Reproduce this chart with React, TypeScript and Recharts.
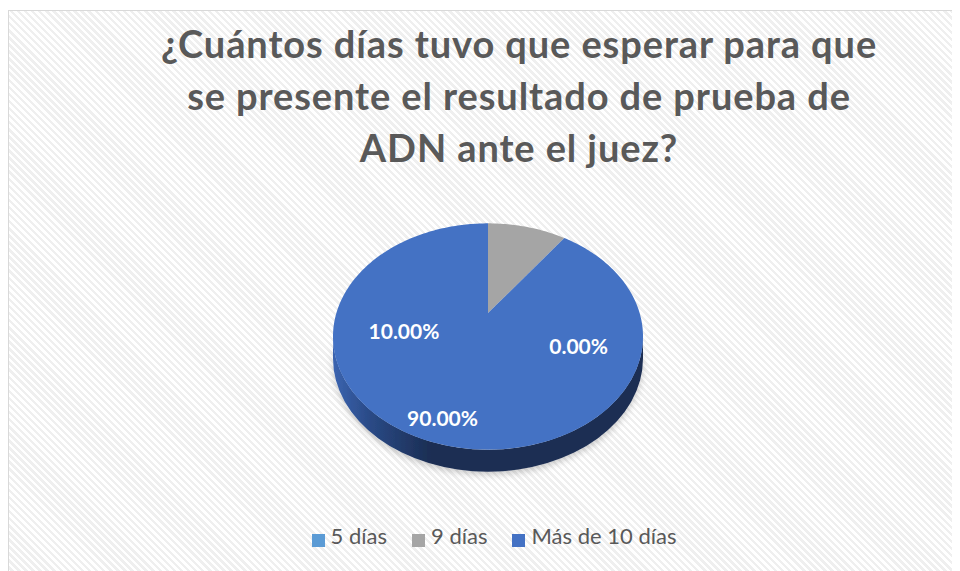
import React from "react";
import { PieChart, Pie, Cell, Legend } from "recharts";

const categories = ["5 días", "9 días", "Más de 10 días"];
const shares = [0, 10, 90];
const colors = ["#5B9BD5", "#A5A5A5", "#4472C4"];
const wallShades = [
  ["#5690C8", "#3F73A4", "#2B557C"],
  ["#9A9A9A", "#7A7A7A", "#5E5E5E"],
  ["#3B64B0", "#2A4A86", "#1B2D52"],
];
const titleLines = [
  "¿Cuántos días tuvo que esperar para que",
  "se presente el resultado de prueba de",
  "ADN ante el juez?",
];

// where excel left the percent labels (clockwise from 12 o'clock, fraction of radius)
const labelSpots = [
  { angle: 97.7, r: 0.59 },
  { angle: 276, r: 0.545 },
  { angle: 202.2, r: 0.777 },
];

const data = categories.map((name, i) => ({ name, value: shares[i] }));

const W = 952;
const H = 562;
const CX = 479;
const CY = 325.5;
const R = 155;
const TILT = 0.73;
const DEPTH = 22;
const PERSP = 0.207; // how far the pie centre sits behind the ellipse centre
const FONT = "Lato, 'Open Sans', sans-serif";

const rad = (a: number) => (a * Math.PI) / 180;

// perspective view of the pie's disc: circle point (u, v) -> screen
const project = (cx: number, cy: number, r: number, u: number, v: number) => {
  const k = 1 + PERSP * v;
  const alpha = Math.sqrt(1 - PERSP * PERSP);
  return [cx + (r * alpha * u) / k, cy - (r * TILT * (v + PERSP)) / k];
};

// angle on the plain ellipse that the projected rim point sits at
const rimAngle = (a: number) => {
  const u = Math.cos(rad(a));
  const v = Math.sin(rad(a));
  const k = 1 + PERSP * v;
  const alpha = Math.sqrt(1 - PERSP * PERSP);
  const phi = (Math.atan2((v + PERSP) / k, (alpha * u) / k) * 180) / Math.PI;
  let diff = phi - a;
  while (diff > 180) diff -= 360;
  while (diff < -180) diff += 360;
  return a + diff;
};

const TopFace = (props: any) => {
  const { cx, cy, outerRadius, startAngle, endAngle, fill } = props;
  if (Math.abs(endAngle - startAngle) < 0.01) return null;
  const steps = Math.max(2, Math.ceil(Math.abs(endAngle - startAngle)));
  const pts: number[][] = [project(cx, cy, outerRadius, 0, 0)];
  for (let s = 0; s <= steps; s++) {
    const a = rad(startAngle + ((endAngle - startAngle) * s) / steps);
    pts.push(project(cx, cy, outerRadius, Math.cos(a), Math.sin(a)));
  }
  const d = "M" + pts.map((p) => `${p[0].toFixed(2)},${p[1].toFixed(2)}`).join(" L") + " Z";
  return <path d={d} fill={fill} stroke="none" />;
};

const Wall = (props: any) => {
  const { cx, cy, outerRadius, startAngle, endAngle, name } = props;
  const p1 = rimAngle(startAngle);
  const p2 = rimAngle(endAngle);
  const lo = Math.min(p1, p2);
  const hi = Math.max(p1, p2);
  const idx = categories.indexOf(name);
  const rx = outerRadius;
  const ry = outerRadius * TILT;
  const pt = (a: number, dy: number) => [cx + rx * Math.cos(rad(a)), cy - ry * Math.sin(rad(a)) + dy];
  const parts: React.ReactNode[] = [];
  [-540, -180, 180].forEach((f, k) => {
    const a1 = Math.max(lo, f);
    const a2 = Math.min(hi, f + 180);
    if (a2 - a1 <= 0.01) return;
    const [x1, y1] = pt(a1, 0);
    const [x2, y2] = pt(a2, 0);
    const [x3, y3] = pt(a2, DEPTH);
    const [x4, y4] = pt(a1, DEPTH);
    const d = `M${x1},${y1} A${rx},${ry} 0 0 0 ${x2},${y2} L${x3},${y3} A${rx},${ry} 0 0 1 ${x4},${y4} Z`;
    parts.push(
      <path key={k} d={d} fill={`url(#wall${idx})`} stroke="none" filter="url(#wallShadow)" />
    );
  });
  return <g>{parts}</g>;
};

const renderLabel = (props: any) => {
  const { cx, cy, outerRadius, index, value } = props;
  const spot = labelSpots[index];
  const a = rad(90 - spot.angle);
  const x = cx + spot.r * outerRadius * Math.cos(a);
  const y = cy - spot.r * outerRadius * TILT * Math.sin(a);
  return (
    <text
      x={x}
      y={y}
      fill="#fff"
      textAnchor="middle"
      dominantBaseline="central"
      fontFamily={FONT}
      fontWeight={700}
      fontSize={21}
    >
      {`${Number(value).toFixed(2)}%`}
    </text>
  );
};

export default function App() {
  return (
    <div
      style={{
        position: "relative",
        marginTop: 2,
        width: W,
        height: H,
        borderTop: "1px solid #d9d9d9",
        borderLeft: "1px solid #d9d9d9",
        background:
          "repeating-linear-gradient(45deg, #ffffff 0px, #ffffff 2.5px, #efefef 2.5px, #efefef 5px)",
        overflow: "hidden",
      }}
    >
      <div
        style={{
          position: "absolute",
          left: 0,
          top: 6,
          width: 1020,
          textAlign: "center",
          fontFamily: FONT,
          fontWeight: 700,
          fontSize: 38,
          letterSpacing: 0.9,
          lineHeight: "52px",
          color: "#595959",
        }}
      >
        {titleLines.map((l) => (
          <div key={l}>{l}</div>
        ))}
      </div>
      <PieChart
        width={W}
        height={H}
        margin={{ top: 0, right: 0, bottom: 0, left: 0 }}
        style={{ position: "absolute", left: 0, top: 0 }}
      >
        <defs>
          {wallShades.map(([a, b, c], i) => (
            <linearGradient key={i} id={`wall${i}`} x1="0" y1="0" x2="1" y2="0">
              <stop offset="0%" stopColor={a} />
              <stop offset="12%" stopColor={b} />
              <stop offset="32%" stopColor={c} />
              <stop offset="100%" stopColor={c} />
            </linearGradient>
          ))}
          <filter id="wallShadow" x="-10%" y="-10%" width="120%" height="140%">
            <feDropShadow dx="0" dy="3" stdDeviation="3" floodColor="#000" floodOpacity="0.2" />
          </filter>
        </defs>
        <Pie
          data={data}
          dataKey="value"
          nameKey="name"
          cx={CX}
          cy={CY}
          outerRadius={R}
          startAngle={90}
          endAngle={-270}
          stroke="none"
          legendType="none"
          isAnimationActive={false}
          shape={Wall}
          inactiveShape={Wall}
          activeShape={Wall}
        >
          {data.map((d, i) => (
            <Cell key={d.name} fill={colors[i]} />
          ))}
        </Pie>
        <Pie
          data={data}
          dataKey="value"
          nameKey="name"
          cx={CX}
          cy={CY}
          outerRadius={R}
          startAngle={90}
          endAngle={-270}
          stroke="none"
          isAnimationActive={false}
          shape={TopFace}
          inactiveShape={TopFace}
          activeShape={TopFace}
          label={renderLabel}
          labelLine={false}
        >
          {data.map((d, i) => (
            <Cell key={d.name} fill={colors[i]} />
          ))}
        </Pie>
        <Legend
          iconType="square"
          iconSize={13}
          verticalAlign="bottom"
          align="center"
          wrapperStyle={{ top: 511, bottom: "auto", left: 14, width: W }}
          formatter={(v: string) => (
            <span
              style={{
                color: "#595959",
                fontFamily: FONT,
                fontSize: 22,
                marginLeft: 2,
                marginRight: categories.indexOf(v) < categories.length - 1 ? 15 : 0,
              }}
            >
              {v}
            </span>
          )}
        />
      </PieChart>
    </div>
  );
}
